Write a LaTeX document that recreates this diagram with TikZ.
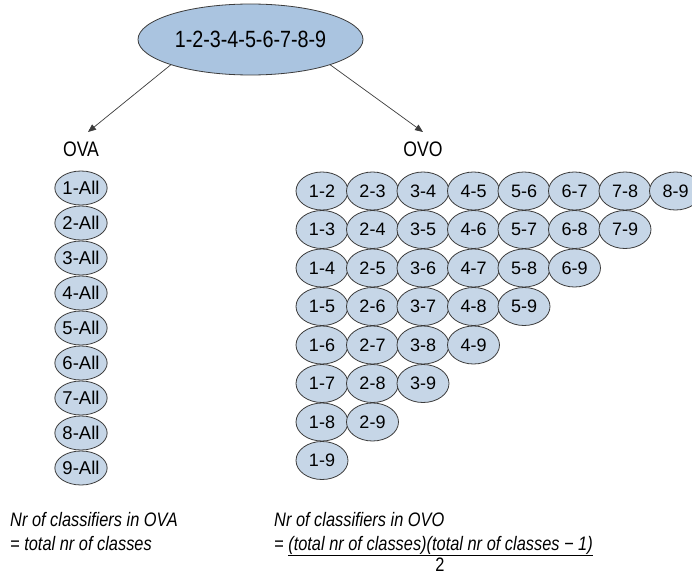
\documentclass[tikz,border=0pt]{standalone}
\usepackage{fontspec}
\setmainfont{Liberation Sans}
\newfontfamily\nar[FakeStretch=0.84]{Liberation Sans}
\usetikzlibrary{arrows.meta,shapes.geometric}
\definecolor{topfill}{RGB}{170,196,224}
\definecolor{smallfill}{RGB}{198,214,231}
\definecolor{edgecol}{RGB}{60,60,60}
\begin{document}
\begin{tikzpicture}[x=1pt,y=-1pt,
  bubble/.style={ellipse, draw=edgecol, fill=smallfill, inner sep=0pt, line width=0.8pt},
  ovoel/.style={bubble, minimum width=52pt, minimum height=38pt, font=\fontsize{18}{20}\selectfont},
  ovael/.style={bubble, minimum width=51pt, minimum height=34pt, font=\fontsize{18.5}{20}\selectfont},
  head/.style={font=\nar\fontsize{21}{24}\selectfont},
  note/.style={anchor=base west, inner sep=0pt, font=\nar\itshape\fontsize{19.5}{22}\selectfont},
  arr/.style={draw=edgecol, line width=0.7pt, -{Triangle[length=8pt,width=6.5pt]}}]
\useasboundingbox (0,0) rectangle (692,575);
\fill[white] (0,0) rectangle (692,575);
\node[ellipse, draw=edgecol, fill=topfill, line width=0.8pt, minimum width=225pt, minimum height=71pt, inner sep=0pt,
  font=\nar\fontsize{23.5}{26}\selectfont] (top) at (250.5,39.5) {1-2-3-4-5-6-7-8-9};
\node[head] (ova) at (81,149) {OVA};
\node[head] (ovo) at (423,149) {OVO};
\coordinate (ovaTip) at (88,132);
\coordinate (ovoTip) at (423,132);
\draw[arr] (top.south west) -- (ovaTip);
\draw[arr] (top.south east) -- (ovoTip);
\foreach \k in {1,...,9}{
  \node[ovael] (a\k) at (81,{188+35*(\k-1)}) {\k-All};
}
\foreach \i in {0,...,7}{
  \pgfmathtruncatemacro\last{7-\i}
  \foreach \j in {0,...,\last}{
    \pgfmathtruncatemacro\a{\j+1}
    \pgfmathtruncatemacro\b{\j+\i+2}
    \node[ovoel] (p\a\b) at ({322+50.5*\j},{191+38.5*\i}) {\a-\b};
  }
}
\node[note] (l1) at (10,526) {Nr of classifiers in OVA};
\node[note] (l2) at (10,550) {= total nr of classes};
\node[note] (r1) at (274,526) {Nr of classifiers in OVO};
\node[note] (r2) at (274,550) {= \underline{(total nr of classes)(total nr of classes − 1)}};
\node[anchor=base, inner sep=0pt, font=\nar\fontsize{19.5}{22}\selectfont] (two) at (440,571.5) {2};
\end{tikzpicture}
\end{document}
